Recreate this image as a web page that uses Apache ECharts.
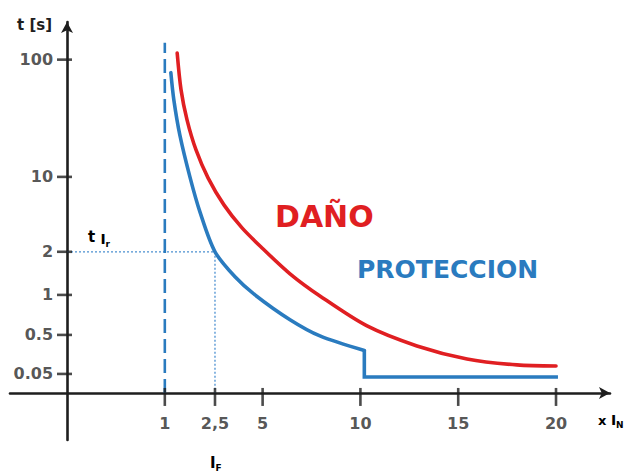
<!DOCTYPE html>
<html>
<head>
<meta charset="utf-8">
<script src="https://cdn.jsdelivr.net/npm/echarts@6/dist/echarts.min.js"></script>
<style>
  html, body { margin: 0; padding: 0; background: #ffffff; }
  #chart { width: 627px; height: 476px; }
</style>
</head>
<body>
<div id="chart"></div>
<script>
// Tick values and their printed labels
const xTicks = [1, 2.5, 5, 10, 15, 20];
const xTickLabels = ['1', '2,5', '5', '10', '15', '20'];
const yTicks = [0.05, 0.5, 1, 2, 10, 100];
const yTickLabels = ['0.05', '0.5', '1', '2', '10', '100'];

// Schematic (non-uniform) scales: value breakpoints and their axis positions
const xScaleVal = [0, 1, 2.5, 5, 10, 15, 20];
const xScalePos = [0, 1, 1.513, 2, 3, 4, 5];
const yScaleVal = [0, 0.05, 0.5, 1, 2, 10, 100];
const yScalePos = [0, 0.485, 1.48, 2.5, 3.6, 5.51, 8.5];

// Damage curve (DAÑO): current in multiples of I_N, time in seconds
const redI = [1.37, 1.485, 1.664, 1.933, 2.292, 2.97, 3.92, 4.97, 6.40, 7.93, 10.34, 12.89, 15.45, 18.0, 20.0];
const redT = [105, 76.8, 53.8, 30.7, 9.9, 7.01, 4.55, 2.41, 1.49, 0.987, 0.612, 0.373, 0.223, 0.154, 0.142];

// Protection curve (PROTECCION): inverse-time part
const blueI = [1.18, 1.27, 1.45, 1.75, 2.05, 2.5, 3.55, 4.6, 6.4, 7.93, 10.2];
const blueT = [90, 69, 42, 10, 6.26, 2, 1.42, 1.0, 0.69, 0.488, 0.32];
// Protection curve: instantaneous step and flat tail
const blueTailI = [10.2, 10.2, 20.1];
const blueTailT = [0.32, 0.042, 0.042];

// Nominal current line (x = 1) and the trip point guide (I_F = 2.5, t = 2 s)
const nominalI = [1, 1];
const nominalT = [0, 113];
const guideI = [0, 2.5, 2.5];
const guideT = [2, 2, 0];

function mapScale(v, vals, pos) {
  let i = 0;
  while (i < vals.length - 2 && v > vals[i + 1]) i++;
  const f = (v - vals[i]) / (vals[i + 1] - vals[i]);
  return pos[i] + f * (pos[i + 1] - pos[i]);
}
const px = v => mapScale(v, xScaleVal, xScalePos);
const py = v => mapScale(v, yScaleVal, yScalePos);
const pts = (xs, ys) => xs.map((x, k) => [px(x), py(ys[k])]);

const BLUE = '#2a7bbf';
const RED = '#e01f22';
const INK = '#1e1e1e';
const LABEL = '#2a2a2a';
const FONT = '"DejaVu Sans", sans-serif';
const tickFont = { fontFamily: FONT, fontWeight: 'bold', fontSize: 16, color: LABEL };

const chart = echarts.init(document.getElementById('chart'), null, { renderer: 'svg' });

chart.setOption({
  animation: false,
  backgroundColor: '#ffffff',
  grid: { left: 10, right: 17, top: 22, bottom: 36, containLabel: false, outerBoundsMode: 'none' },
  xAxis: {
    type: 'value', min: -0.583, max: 5.552,
    splitLine: { show: false }, axisTick: { show: false }, axisLabel: { show: false },
    axisLine: { onZero: true, symbol: ['none', 'arrow'], symbolSize: [9, 11],
                lineStyle: { color: INK, width: 2.6 } }
  },
  yAxis: {
    type: 'value', min: -1.2, max: 9.46,
    splitLine: { show: false }, axisTick: { show: false }, axisLabel: { show: false },
    axisLine: { onZero: true, symbol: ['none', 'arrow'], symbolSize: [9, 11],
                lineStyle: { color: INK, width: 2.6 } }
  },
  series: [
    {
      name: 'guide', type: 'line', data: pts(guideI, guideT), symbol: 'none',
      lineStyle: { color: '#4a8fd0', width: 1.3, type: [2, 2] }, z: 2
    },
    {
      name: 'nominal', type: 'line', data: pts(nominalI, nominalT), symbol: 'none',
      lineStyle: { color: BLUE, width: 2.6, type: [14, 6] }, z: 3
    },
    {
      name: 'DAÑO', type: 'line', data: pts(redI, redT), symbol: 'none', smooth: 0.3,
      lineStyle: { color: RED, width: 3.6, cap: 'round' }, z: 4
    },
    {
      name: 'PROTECCION', type: 'line', data: pts(blueI, blueT), symbol: 'none', smooth: 0.3,
      lineStyle: { color: BLUE, width: 3.6, cap: 'round' }, z: 4
    },
    {
      name: 'PROTECCION tail', type: 'line', data: pts(blueTailI, blueTailT), symbol: 'none',
      lineStyle: { color: BLUE, width: 3.6, join: 'miter' }, z: 4
    },
    {
      name: 'xTicks', type: 'scatter', data: xTicks.map(t => [px(t), 0]),
      symbol: 'rect', symbolSize: [2.6, 18], symbolOffset: [0, 4],
      itemStyle: { color: INK }, silent: true, z: 5
    },
    {
      name: 'yTicks', type: 'scatter', data: yTicks.map(t => [0, py(t)]),
      symbol: 'rect', symbolSize: [15, 2.6], symbolOffset: [-2.5, 0],
      itemStyle: { color: INK }, silent: true, z: 5
    },
    {
      name: 'xTickLabels', type: 'scatter', symbolSize: 0, silent: true, z: 6,
      data: xTicks.map((t, k) => ({ value: [px(t), 0], label: { formatter: xTickLabels[k] } })),
      label: Object.assign({ show: true, position: 'bottom', distance: 23 }, tickFont)
    },
    {
      name: 'yTickLabels', type: 'scatter', symbolSize: 0, silent: true, z: 6,
      data: yTicks.map((t, k) => ({ value: [0, py(t)], label: { formatter: yTickLabels[k] } })),
      label: Object.assign({ show: true, position: 'left', distance: 14 }, tickFont)
    }
  ],
  graphic: [
    { type: 'text', left: 17, top: 17,
      style: { text: 't [s]', fontFamily: FONT, fontWeight: 'bold', fontSize: 15, fill: INK } },
    { type: 'text', x: 275, y: 216,
      style: { text: 'DAÑO', fontFamily: FONT, fontWeight: 'bold', fontSize: 30, fill: RED,
               verticalAlign: 'middle' } },
    { type: 'text', x: 357, y: 269,
      style: { text: 'PROTECCION', fontFamily: FONT, fontWeight: 'bold', fontSize: 25, fill: BLUE,
               verticalAlign: 'middle' } },
    { type: 'text', x: 88, y: 237,
      style: { text: '{a|t }{b|I}{c|r}', verticalAlign: 'middle',
               rich: {
                 a: { fontFamily: FONT, fontWeight: 'bold', fontSize: 15, color: '#4a8fd0' },
                 b: { fontFamily: FONT, fontWeight: 'bold', fontSize: 14, color: '#4a8fd0', padding: [4, 0, 0, 0] },
                 c: { fontFamily: FONT, fontWeight: 'bold', fontSize: 9, color: '#4a8fd0', padding: [14, 0, 0, 0] }
               } } },
    { type: 'text', x: 210, y: 463,
      style: { text: '{b|I}{c|F}', verticalAlign: 'middle',
               rich: {
                 b: { fontFamily: FONT, fontWeight: 'bold', fontSize: 15, color: '#4a8fd0' },
                 c: { fontFamily: FONT, fontWeight: 'bold', fontSize: 9, color: '#4a8fd0', padding: [10, 0, 0, 0] }
               } } },
    { type: 'text', x: 598, y: 420,
      style: { text: '{a|x }{b|I}{c|N}', verticalAlign: 'middle',
               rich: {
                 a: { fontFamily: FONT, fontWeight: 'bold', fontSize: 13, color: LABEL },
                 b: { fontFamily: FONT, fontWeight: 'bold', fontSize: 14, color: LABEL },
                 c: { fontFamily: FONT, fontWeight: 'bold', fontSize: 9, color: LABEL, padding: [9, 0, 0, 0] }
               } } }
  ]
});
</script>
</body>
</html>
